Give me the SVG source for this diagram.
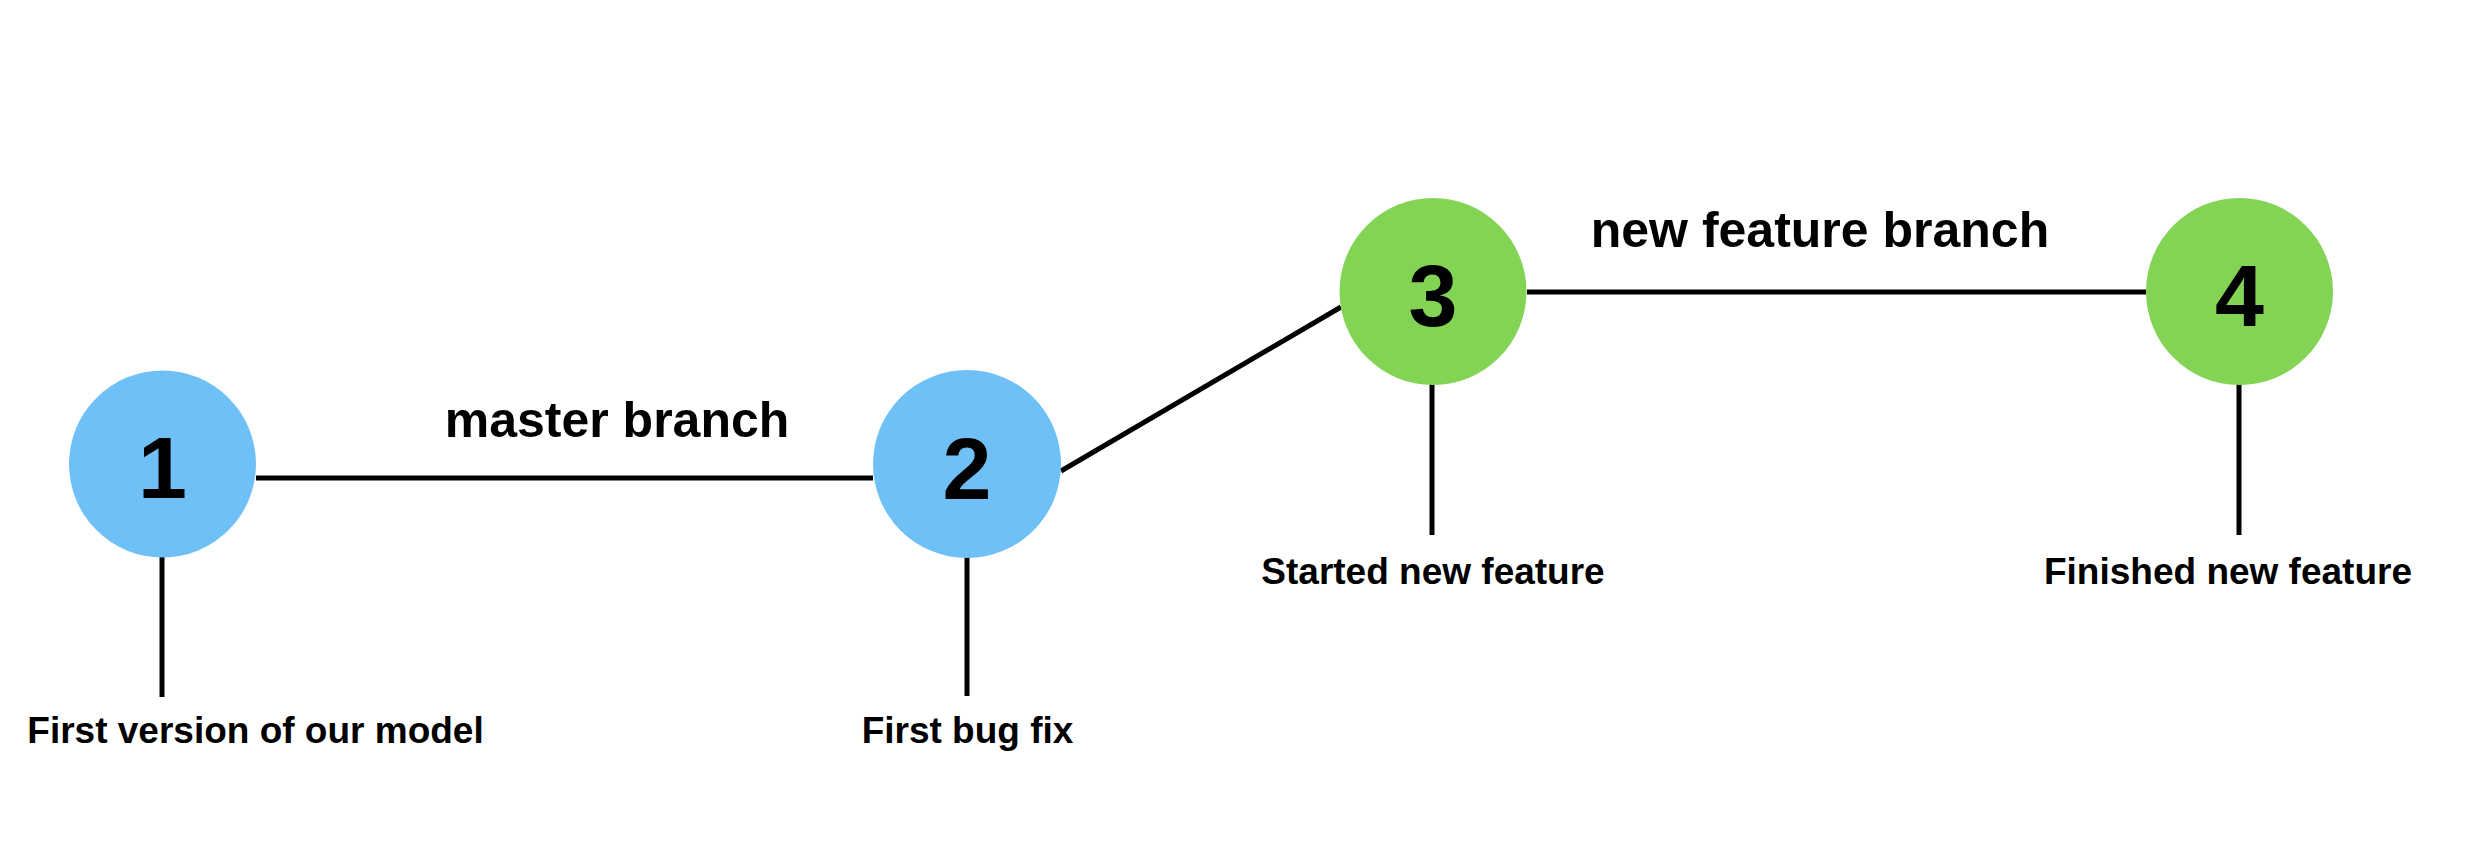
<svg xmlns="http://www.w3.org/2000/svg" width="2474" height="864" viewBox="0 0 2474 864">
<style>
.blue{fill:#70C0F8}
.green{fill:#83D455}
.num{font-family:"Liberation Sans",Arial,sans-serif;font-weight:bold;font-size:88px;fill:#000;text-anchor:middle}
.lbl{font-family:"Liberation Sans",Arial,sans-serif;font-weight:bold;font-size:37px;fill:#000;text-anchor:middle}
.br{font-family:"Liberation Sans",Arial,sans-serif;font-weight:bold;font-size:50px;fill:#000;text-anchor:middle}
.ln{stroke:#000;stroke-width:5;fill:none}
</style>
<rect width="2474" height="864" fill="#fff"/>
<g id="connectors">
<line class="ln" x1="256" y1="478" x2="873" y2="478"/>
<line class="ln" x1="1061" y1="471" x2="1341" y2="307"/>
<line class="ln" x1="1527" y1="292" x2="2146" y2="292"/>
<line class="ln" x1="162" y1="555" x2="162" y2="697"/>
<line class="ln" x1="967" y1="555" x2="967" y2="696"/>
<line class="ln" x1="1432" y1="383" x2="1432" y2="535"/>
<line class="ln" x1="2239" y1="383" x2="2239" y2="535"/>
<text class="br" x="617" y="437">master branch</text>
<text class="br" x="1820" y="247">new feature branch</text>
</g>
<g id="node1">
<circle class="blue" cx="162.5" cy="464" r="93.5"/>
<text class="num" x="162.5" y="498">1</text>
<text class="lbl" x="255.5" y="743">First version of our model</text>
</g>
<g id="node2">
<circle class="blue" cx="967" cy="464" r="94"/>
<text class="num" x="967" y="499">2</text>
<text class="lbl" x="967.5" y="743">First bug fix</text>
</g>
<g id="node3">
<circle class="green" cx="1433" cy="291.5" r="93.5"/>
<text class="num" x="1433" y="326">3</text>
<text class="lbl" x="1433" y="584">Started new feature</text>
</g>
<g id="node4">
<circle class="green" cx="2239.5" cy="291.5" r="93.5"/>
<text class="num" x="2239.5" y="326">4</text>
<text class="lbl" x="2228" y="584">Finished new feature</text>
</g>
</svg>
